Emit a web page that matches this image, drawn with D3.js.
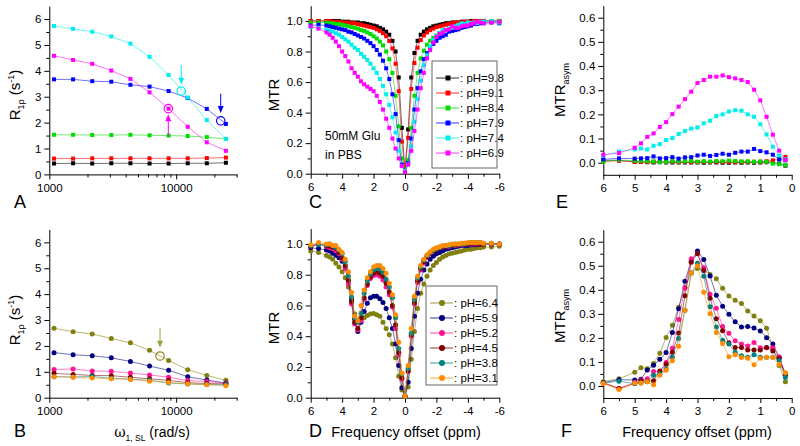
<!DOCTYPE html>
<html>
<head>
<meta charset="utf-8">
<script src="https://cdn.jsdelivr.net/npm/d3@7"></script>
<style>
  body { margin: 0; background: #fff; }
  svg text { font-family: "Liberation Sans", Arial, Helvetica, sans-serif; }
</style>
</head>
<body>
<svg id="fig" width="800" height="446"></svg>
<script>
// ---- data: R1rho vs spin-lock frequency (panels A, B) ----
const omega = [1090, 1540, 2180, 3080, 4360, 6170, 8720, 12330, 17440, 24660];

const r1rho98 = [0.42,0.43,0.42,0.43,0.43,0.42,0.42,0.43,0.43,0.45];
const r1rho91 = [0.61,0.61,0.62,0.62,0.62,0.62,0.62,0.62,0.63,0.65];
const r1rho84 = [1.53,1.53,1.52,1.52,1.53,1.51,1.50,1.48,1.44,1.37];
const r1rho79 = [3.67,3.67,3.60,3.58,3.46,3.39,3.22,2.95,2.53,1.95];
const r1rho74 = [5.73,5.62,5.51,5.33,5.05,4.54,3.84,2.97,2.10,1.37];
const r1rho69 = [4.58,4.42,4.27,4.01,3.69,3.17,2.54,1.84,1.24,0.91];

const r1rho64 = [2.68,2.55,2.46,2.29,2.12,1.83,1.44,1.08,0.86,0.67];
const r1rho59 = [1.74,1.66,1.62,1.54,1.40,1.22,1.06,0.81,0.68,0.57];
const r1rho52 = [1.09,1.11,1.03,1.02,0.95,0.88,0.79,0.66,0.63,0.55];
const r1rho45 = [0.94,0.90,0.86,0.85,0.79,0.73,0.67,0.58,0.55,0.53];
const r1rho38 = [0.81,0.80,0.82,0.75,0.72,0.67,0.57,0.53,0.51,0.50];
const r1rho31 = [0.81,0.79,0.76,0.73,0.70,0.64,0.59,0.54,0.50,0.46];

// ---- data: Z-spectra (panels C, D) ----
const offsetsZ = [6,5.5,5,4.8,4.6,4.4,4.2,4,3.8,3.6,3.4,3.2,3,2.8,2.6,2.4,2.2,2,1.8,1.6,1.4,1.2,1,0.8,0.6,0.4,0.2,
  0,-0.2,-0.4,-0.6,-0.8,-1,-1.2,-1.4,-1.6,-1.8,-2,-2.2,-2.4,-2.6,-2.8,-3,-3.2,-3.4,-3.6,-3.8,-4,-4.2,-4.4,-4.6,-4.8,-5,-5.5,-6];

const mtr98 = [1.00,1.00,1.00,1.00,1.00,1.00,1.00,0.995,0.995,0.995,0.99,0.99,0.99,0.985,0.985,0.98,0.975,0.97,0.965,0.955,0.945,0.93,0.91,0.87,0.80,0.63,0.30,
  0.02,0.29,0.63,0.79,0.87,0.91,0.93,0.945,0.955,0.965,0.97,0.975,0.98,0.985,0.985,0.99,0.99,0.99,0.995,0.995,0.995,1.00,1.00,1.00,1.00,1.00,1.00,1.00];
const mtr91 = [1.00,1.00,1.00,1.00,0.995,0.995,0.995,0.99,0.99,0.99,0.985,0.985,0.98,0.975,0.97,0.965,0.96,0.955,0.945,0.935,0.92,0.90,0.87,0.82,0.72,0.54,0.21,
  0.02,0.235,0.555,0.725,0.825,0.875,0.905,0.925,0.94,0.95,0.96,0.965,0.97,0.975,0.98,0.985,0.99,0.99,0.99,0.995,0.995,0.995,1.00,1.00,1.00,1.00,1.00,1.00];
const mtr84 = [0.99,0.99,0.99,0.985,0.985,0.98,0.98,0.975,0.97,0.965,0.96,0.955,0.95,0.94,0.935,0.925,0.915,0.90,0.885,0.865,0.84,0.80,0.75,0.66,0.51,0.31,0.10,
  0.02,0.09,0.30,0.51,0.66,0.755,0.805,0.845,0.87,0.89,0.905,0.92,0.93,0.94,0.945,0.955,0.96,0.965,0.97,0.975,0.98,0.985,0.985,0.99,0.99,0.995,1.00,1.00];
const mtr79 = [0.97,0.975,0.97,0.965,0.96,0.955,0.95,0.945,0.94,0.93,0.925,0.915,0.905,0.895,0.885,0.87,0.855,0.835,0.81,0.78,0.74,0.69,0.62,0.52,0.39,0.22,0.06,
  0.02,0.07,0.23,0.42,0.56,0.67,0.75,0.79,0.83,0.85,0.87,0.89,0.90,0.91,0.93,0.935,0.94,0.945,0.955,0.96,0.965,0.97,0.98,0.98,0.985,0.985,0.99,0.985];
const mtr74 = [0.96,0.955,0.94,0.935,0.93,0.92,0.91,0.895,0.88,0.865,0.845,0.825,0.81,0.785,0.765,0.745,0.72,0.69,0.66,0.62,0.575,0.52,0.45,0.37,0.27,0.15,0.05,
  0.02,0.06,0.18,0.34,0.49,0.61,0.71,0.775,0.835,0.875,0.90,0.92,0.94,0.94,0.95,0.955,0.965,0.975,0.985,0.98,0.99,0.985,0.99,0.985,0.995,0.995,1.00,0.99];
const mtr69 = [0.965,0.95,0.925,0.91,0.89,0.865,0.835,0.80,0.77,0.735,0.69,0.66,0.635,0.605,0.585,0.57,0.555,0.54,0.51,0.47,0.42,0.36,0.30,0.23,0.165,0.10,0.05,
  0.01,0.06,0.15,0.28,0.42,0.56,0.66,0.755,0.81,0.86,0.895,0.915,0.925,0.94,0.945,0.965,0.955,0.955,0.965,0.97,0.97,0.98,0.985,0.995,0.99,0.985,0.99,0.995];

const mtr64 = [0.955,0.945,0.925,0.915,0.90,0.875,0.85,0.82,0.78,0.72,0.63,0.545,0.50,0.50,0.52,0.535,0.545,0.548,0.54,0.53,0.49,0.45,0.41,0.35,0.26,0.14,0.05,
  0.01,0.07,0.25,0.43,0.58,0.68,0.74,0.79,0.83,0.86,0.88,0.90,0.915,0.925,0.935,0.94,0.945,0.95,0.955,0.96,0.965,0.965,0.97,0.975,0.975,0.98,0.98,0.985];
const mtr59 = [0.975,0.97,0.96,0.955,0.94,0.926,0.91,0.887,0.85,0.76,0.644,0.51,0.43,0.49,0.56,0.615,0.65,0.66,0.66,0.644,0.62,0.58,0.52,0.45,0.35,0.21,0.065,
  0.01,0.10,0.32,0.53,0.68,0.77,0.83,0.87,0.90,0.92,0.935,0.945,0.955,0.965,0.97,0.975,0.98,0.985,0.99,0.99,0.99,0.995,0.995,0.995,1.00,1.00,1.00,1.00];
const mtr52 = [0.985,1.00,0.985,0.975,0.97,0.955,0.935,0.90,0.84,0.74,0.61,0.48,0.44,0.50,0.64,0.73,0.775,0.795,0.80,0.79,0.765,0.72,0.67,0.59,0.45,0.28,0.12,
  0.01,0.17,0.40,0.61,0.75,0.83,0.875,0.915,0.94,0.96,0.97,0.975,0.98,0.985,0.985,0.99,0.99,0.995,0.995,1.00,1.00,1.00,1.00,1.00,1.00,1.00,1.00,0.995];
const mtr45 = [0.985,1.00,0.99,0.985,0.98,0.97,0.945,0.91,0.86,0.765,0.625,0.49,0.45,0.52,0.65,0.74,0.785,0.81,0.82,0.81,0.79,0.745,0.69,0.60,0.475,0.295,0.13,
  0.01,0.175,0.41,0.62,0.76,0.84,0.885,0.915,0.94,0.955,0.965,0.975,0.98,0.985,0.99,0.99,0.995,0.995,1.00,1.00,1.00,1.005,1.005,1.005,1.00,1.00,1.00,1.00];
const mtr38 = [0.99,0.995,0.995,1.00,0.99,0.975,0.96,0.935,0.885,0.79,0.655,0.52,0.49,0.55,0.68,0.76,0.805,0.83,0.84,0.835,0.815,0.77,0.72,0.65,0.52,0.32,0.155,
  0.01,0.19,0.42,0.64,0.78,0.85,0.895,0.925,0.945,0.96,0.97,0.98,0.985,0.99,0.99,0.995,1.00,1.00,1.00,1.005,1.005,1.01,1.01,1.01,1.01,1.005,1.005,1.00];
const mtr31 = [0.995,1.01,1.00,1.00,0.99,0.99,0.965,0.945,0.90,0.82,0.685,0.53,0.50,0.60,0.70,0.78,0.82,0.85,0.86,0.86,0.84,0.81,0.745,0.67,0.54,0.36,0.16,
  0.01,0.21,0.45,0.66,0.79,0.86,0.90,0.93,0.95,0.965,0.975,0.98,0.99,0.99,0.995,1.00,1.00,1.00,1.005,1.005,1.01,1.01,1.01,1.01,1.01,1.005,1.005,1.00];

// ---- data: MTR asymmetry (panels E, F) ----
const offsetsAsym = [6,5.5,5,4.8,4.6,4.4,4.2,4,3.8,3.6,3.4,3.2,3,2.8,2.6,2.4,2.2,2,1.8,1.6,1.4,1.2,1,0.8,0.6,0.4,0.2];

const asym98 = [0.010,0.010,0.004,0.003,0.002,0.001,0.002,0.001,0.001,0.001,0.001,0.001,0.001,0.000,0.001,0.001,0.000,0.000,0.001,0.000,0.001,0.000,0.001,0.002,0.002,-0.004,-0.012];
const asym91 = [0.005,0.008,0.003,0.003,0.003,0.004,0.003,0.003,0.004,0.003,0.004,0.003,0.003,0.004,0.003,0.004,0.003,0.003,0.003,0.004,0.003,0.004,0.004,0.006,0.010,0.015,0.024];
const asym84 = [0.005,0.012,0.008,0.008,0.006,0.005,0.003,0.004,0.006,0.005,0.006,0.007,0.004,0.006,0.005,0.007,0.006,0.009,0.007,0.005,0.006,0.004,0.005,0.004,-0.004,-0.006,-0.010];
const asym79 = [0.014,0.018,0.017,0.018,0.019,0.026,0.018,0.019,0.023,0.017,0.022,0.023,0.030,0.033,0.028,0.032,0.037,0.033,0.041,0.046,0.046,0.057,0.048,0.043,0.033,0.014,0.010];
const asym74 = [0.030,0.046,0.055,0.059,0.055,0.070,0.077,0.094,0.102,0.119,0.131,0.141,0.146,0.163,0.174,0.193,0.200,0.212,0.217,0.215,0.200,0.190,0.159,0.117,0.066,0.030,0.014];
const asym69 = [0.033,0.040,0.062,0.080,0.107,0.121,0.148,0.168,0.201,0.232,0.263,0.294,0.330,0.342,0.356,0.356,0.361,0.354,0.349,0.342,0.334,0.302,0.258,0.190,0.116,0.050,0.011];

const asym64 = [0.018,0.030,0.057,0.076,0.072,0.094,0.136,0.202,0.253,0.327,0.410,0.470,0.489,0.482,0.464,0.446,0.406,0.374,0.357,0.343,0.312,0.291,0.271,0.240,0.160,0.085,0.018];
const asym59 = [0.014,0.026,0.025,0.028,0.066,0.086,0.111,0.139,0.222,0.321,0.436,0.520,0.561,0.526,0.457,0.377,0.332,0.298,0.267,0.245,0.247,0.241,0.229,0.201,0.175,0.118,0.050];
const asym52 = [0.011,-0.010,0.014,0.025,0.030,0.060,0.060,0.098,0.157,0.277,0.406,0.529,0.551,0.492,0.382,0.323,0.247,0.219,0.188,0.175,0.166,0.181,0.159,0.159,0.159,0.122,0.048];
const asym45 = [0.014,-0.010,0.010,0.022,0.020,0.022,0.062,0.090,0.140,0.220,0.375,0.515,0.550,0.480,0.365,0.280,0.230,0.180,0.160,0.160,0.150,0.150,0.150,0.160,0.145,0.115,0.045];
const asym38 = [0.012,0.020,0.010,0.012,0.018,0.045,0.050,0.070,0.120,0.197,0.315,0.470,0.510,0.456,0.330,0.245,0.190,0.175,0.140,0.126,0.120,0.130,0.120,0.120,0.120,0.105,0.035];
const asym31 = [0.010,-0.015,0.012,0.012,0.018,0.005,0.045,0.065,0.105,0.165,0.315,0.470,0.500,0.390,0.300,0.222,0.177,0.122,0.130,0.118,0.115,0.088,0.115,0.120,0.118,0.090,0.055];

// ---- labels ----
const phHigh = ["9.8", "9.1", "8.4", "7.9", "7.4", "6.9"];
const phLow  = ["6.4", "5.9", "5.2", "4.5", "3.8", "3.1"];
const colorsHigh = ["#000000", "#ff0000", "#00dd00", "#0000ff", "#00eeee", "#ff00ff"];
const colorsLow  = ["#808010", "#000080", "#ff1493", "#800000", "#008080", "#ff8c00"];

// annotations in data units: [omega, R1rho at circle], arrows [omega, from, to]
const circlesA = [[10975, 3.22, "#00eeee"], [22440, 2.07, "#0000ff"], [8670, 2.54, "#ff00ff"]];
const arrowsA  = [[10975, 4.22, 3.46, "#00eeee"], [22440, 3.12, 2.37, "#0000ff"], [8670, 1.48, 2.32, "#ff00ff"]];
const circlesB = [[7460, 1.61, "#8c8c20"]];
const arrowsB  = [[7460, 2.70, 1.93, "#a0a040"]];

const svg = d3.select("#fig");
const FONT = '"Liberation Sans", Arial, Helvetica, sans-serif';

function styleAxis(g, size) {
  g.selectAll("path, line").attr("stroke", "#000").attr("stroke-width", 1);
  g.selectAll("text").attr("font-size", size).attr("font-family", FONT).attr("fill", "#000");
}

function drawAxes(p) {
  const yb = p.y.range()[0], xl = p.x.range()[0];
  const fmtX = p.xFmt || (d => String(d));
  const xa = svg.append("g").attr("transform", `translate(0,${yb})`)
    .call(d3.axisBottom(p.x).tickValues(p.xMajor).tickSize(5).tickPadding(4).tickSizeOuter(0).tickFormat(fmtX));
  styleAxis(xa, 11.5);
  const xm = svg.append("g").attr("transform", `translate(0,${yb})`)
    .call(d3.axisBottom(p.x).tickValues(p.xMinor).tickSize(3).tickFormat(""));
  xm.select(".domain").remove();
  styleAxis(xm, 11);

  const ya = svg.append("g").attr("transform", `translate(${xl},0)`)
    .call(d3.axisLeft(p.y).tickValues(p.yMajor).tickSize(5).tickPadding(3).tickSizeOuter(0).tickFormat(p.yFmt));
  styleAxis(ya, 11.5);
  const ym = svg.append("g").attr("transform", `translate(${xl},0)`)
    .call(d3.axisLeft(p.y).tickValues(p.yMinor).tickSize(3).tickFormat(""));
  ym.select(".domain").remove();
  styleAxis(ym, 11);
}

function drawSeries(p, xs, ys, color, shape) {
  const pts = xs.map((v, i) => [v, ys[i]]);
  const line = d3.line().x(d => p.x(d[0])).y(d => p.y(d[1]));
  svg.append("path").attr("d", line(pts))
    .attr("fill", "none").attr("stroke", color).attr("stroke-width", 0.8).attr("stroke-opacity", 0.7);
  if (shape === "square") {
    svg.append("g").selectAll("rect").data(pts).join("rect")
      .attr("x", d => p.x(d[0]) - 2).attr("y", d => p.y(d[1]) - 2)
      .attr("width", 4).attr("height", 4).attr("fill", color);
  } else {
    svg.append("g").selectAll("circle").data(pts).join("circle")
      .attr("cx", d => p.x(d[0])).attr("cy", d => p.y(d[1]))
      .attr("r", 2.5).attr("fill", color);
  }
}

function drawLegend(x0, y0, w, h, labels, colors, shape) {
  svg.append("rect").attr("x", x0).attr("y", y0).attr("width", w).attr("height", h)
    .attr("fill", "#fff").attr("stroke", "#666").attr("stroke-width", 1);
  labels.forEach((lab, i) => {
    const yy = y0 + 17 + i * 15;
    svg.append("line").attr("x1", x0 + 4).attr("x2", x0 + 27).attr("y1", yy).attr("y2", yy)
      .attr("stroke", colors[i]).attr("stroke-width", 0.8);
    if (shape === "square") {
      svg.append("rect").attr("x", x0 + 13.5).attr("y", yy - 2.5).attr("width", 5).attr("height", 5).attr("fill", colors[i]);
    } else {
      svg.append("circle").attr("cx", x0 + 16).attr("cy", yy).attr("r", 3).attr("fill", colors[i]);
    }
    svg.append("text").attr("x", x0 + 28).attr("y", yy + 4).attr("font-size", 11.5)
      .attr("fill", "#000").text(": pH=" + lab);
  });
}

function drawArrow(p, a) {
  const [xv, from, to, color] = a;
  const x = p.x(xv), y1 = p.y(from), y2 = p.y(to);
  const dir = y2 > y1 ? 1 : -1;
  svg.append("line").attr("x1", x).attr("x2", x).attr("y1", y1).attr("y2", y2 - dir * 6)
    .attr("stroke", color).attr("stroke-width", 1);
  svg.append("path")
    .attr("d", `M${x},${y2} L${x - 3},${y2 - dir * 7} L${x + 3},${y2 - dir * 7} Z`)
    .attr("fill", color);
}

function drawRing(p, c) {
  svg.append("circle").attr("cx", p.x(c[0])).attr("cy", p.y(c[1])).attr("r", 4.2)
    .attr("fill", "none").attr("stroke", c[2]).attr("stroke-width", 1.2);
}

// ---- panel scales ----
const xLogA = d3.scaleLog().domain([1000, 30000]).range([49.3, 236.7]);
const xLogB = d3.scaleLog().domain([1000, 30000]).range([49.3, 236.7]);
const xZC = d3.scaleLinear().domain([6, -6]).range([310.7, 499.3]);
const xZD = d3.scaleLinear().domain([6, -6]).range([310.7, 499.3]);
const xAE = d3.scaleLinear().domain([6, 0]).range([603.3, 791.7]);
const xAF = d3.scaleLinear().domain([6, 0]).range([603.3, 791.7]);

const logMajor = [1000, 10000];
const logMinor = [2000, 3000, 4000, 5000, 6000, 7000, 8000, 9000, 20000, 30000];
const rMajor = [0, 1, 2, 3, 4, 5, 6];
const rMinor = [0.5, 1.5, 2.5, 3.5, 4.5, 5.5];
const zMajorX = [6, 4, 2, 0, -2, -4, -6];
const zMinorX = [5, 3, 1, -1, -3, -5];
const mtrMajor = [0, 0.2, 0.4, 0.6, 0.8, 1.0];
const mtrMinor = [0.1, 0.3, 0.5, 0.7, 0.9];
const aMajorX = [6, 5, 4, 3, 2, 1, 0];
const aMinorX = [5.5, 4.5, 3.5, 2.5, 1.5, 0.5];
const asymMajor = [0, 0.1, 0.2, 0.3, 0.4, 0.5, 0.6];
const asymMinor = [0.05, 0.15, 0.25, 0.35, 0.45, 0.55];

const f1 = d3.format(".1f");

const pA = { x: xLogA, y: d3.scaleLinear().domain([0, 6.5]).range([174.4, 6.1]),
  xMajor: logMajor, xMinor: logMinor, xFmt: d3.format("d"), yMajor: rMajor, yMinor: rMinor, yFmt: d3.format("d") };
const pB = { x: xLogB, y: d3.scaleLinear().domain([0, 6.5]).range([397.7, 229.4]),
  xMajor: logMajor, xMinor: logMinor, xFmt: d3.format("d"), yMajor: rMajor, yMinor: rMinor, yFmt: d3.format("d") };
const pC = { x: xZC, y: d3.scaleLinear().domain([0, 1.1]).range([173.7, 5.7]),
  xMajor: zMajorX, xMinor: zMinorX, yMajor: mtrMajor, yMinor: mtrMinor, yFmt: f1 };
const pD = { x: xZD, y: d3.scaleLinear().domain([0, 1.1]).range([397.7, 228.6]),
  xMajor: zMajorX, xMinor: zMinorX, yMajor: mtrMajor, yMinor: mtrMinor, yFmt: f1 };
const pE = { x: xAE, y: d3.scaleLinear().domain([-0.05, 0.65]).range([174.8, 5.6]),
  xMajor: aMajorX, xMinor: aMinorX, yMajor: asymMajor, yMinor: asymMinor, yFmt: f1 };
const pF = { x: xAF, y: d3.scaleLinear().domain([-0.05, 0.65]).range([398.0, 229.7]),
  xMajor: aMajorX, xMinor: aMinorX, yMajor: asymMajor, yMinor: asymMinor, yFmt: f1 };

[pA, pB, pC, pD, pE, pF].forEach(drawAxes);

const highA = [r1rho98, r1rho91, r1rho84, r1rho79, r1rho74, r1rho69];
const lowB  = [r1rho64, r1rho59, r1rho52, r1rho45, r1rho38, r1rho31];
const highC = [mtr98, mtr91, mtr84, mtr79, mtr74, mtr69];
const lowD  = [mtr64, mtr59, mtr52, mtr45, mtr38, mtr31];
const highE = [asym98, asym91, asym84, asym79, asym74, asym69];
const lowF  = [asym64, asym59, asym52, asym45, asym38, asym31];

highA.forEach((ys, i) => drawSeries(pA, omega, ys, colorsHigh[i], "square"));
lowB.forEach((ys, i) => drawSeries(pB, omega, ys, colorsLow[i], "circle"));
highC.forEach((ys, i) => drawSeries(pC, offsetsZ, ys, colorsHigh[i], "square"));
lowD.forEach((ys, i) => drawSeries(pD, offsetsZ, ys, colorsLow[i], "circle"));
highE.forEach((ys, i) => drawSeries(pE, offsetsAsym, ys, colorsHigh[i], "square"));
lowF.forEach((ys, i) => drawSeries(pF, offsetsAsym, ys, colorsLow[i], "circle"));

circlesA.forEach(c => drawRing(pA, c));
arrowsA.forEach(a => drawArrow(pA, a));
circlesB.forEach(c => drawRing(pB, c));
arrowsB.forEach(a => drawArrow(pB, a));

drawLegend(432, 61, 65, 107, phHigh, colorsHigh, "square");
drawLegend(426, 286, 71, 99, phLow, colorsLow, "circle");

svg.append("text").attr("x", 325).attr("y", 140).attr("font-size", 12).text("50mM Glu");
svg.append("text").attr("x", 325).attr("y", 159).attr("font-size", 12).text("in PBS");

// ---- axis titles ----
function r1rhoTitle(cx, cy) {
  const t = svg.append("text").attr("transform", `translate(${cx},${cy}) rotate(-90)`)
    .attr("text-anchor", "middle").attr("font-size", 15);
  t.append("tspan").text("R");
  t.append("tspan").attr("font-size", 9).attr("dy", 4).text("1\u03C1");
  t.append("tspan").attr("dy", -4).text(" (s");
  t.append("tspan").attr("font-size", 9).attr("dy", -6).text("-1");
  t.append("tspan").attr("dy", 6).text(")");
}
r1rhoTitle(20, 95);
r1rhoTitle(20, 320);

function mtrTitle(cx, cy) {
  svg.append("text").attr("transform", `translate(${cx},${cy}) rotate(-90)`)
    .attr("text-anchor", "middle").attr("font-size", 15).text("MTR");
}
mtrTitle(279, 95);
mtrTitle(279, 328);

function asymTitle(cx, cy) {
  const t = svg.append("text").attr("transform", `translate(${cx},${cy}) rotate(-90)`)
    .attr("text-anchor", "middle").attr("font-size", 15);
  t.append("tspan").text("MTR");
  t.append("tspan").attr("font-size", 9).attr("dy", 4).text("asym");
}
asymTitle(565, 90);
asymTitle(565, 316);

const wt = svg.append("text").attr("x", 152).attr("y", 437).attr("text-anchor", "middle").attr("font-size", 14);
wt.append("tspan").attr("font-family", "DejaVu Serif, serif").text("\u03C9");
wt.append("tspan").attr("font-size", 8.5).attr("dy", 4).text("1, SL");
wt.append("tspan").attr("dy", -4).text(" (rad/s)");

svg.append("text").attr("x", 406).attr("y", 437).attr("text-anchor", "middle").attr("font-size", 14.5).text("Frequency offset (ppm)");
svg.append("text").attr("x", 697).attr("y", 437).attr("text-anchor", "middle").attr("font-size", 14.5).text("Frequency offset (ppm)");

// ---- panel letters ----
const letters = [["A", 14, 208], ["B", 14, 437], ["C", 309, 208], ["D", 309, 437], ["E", 556, 208], ["F", 561, 437]];
letters.forEach(([t, x, y]) => svg.append("text").attr("x", x).attr("y", y).attr("font-size", 18).text(t));
</script>
</body>
</html>
